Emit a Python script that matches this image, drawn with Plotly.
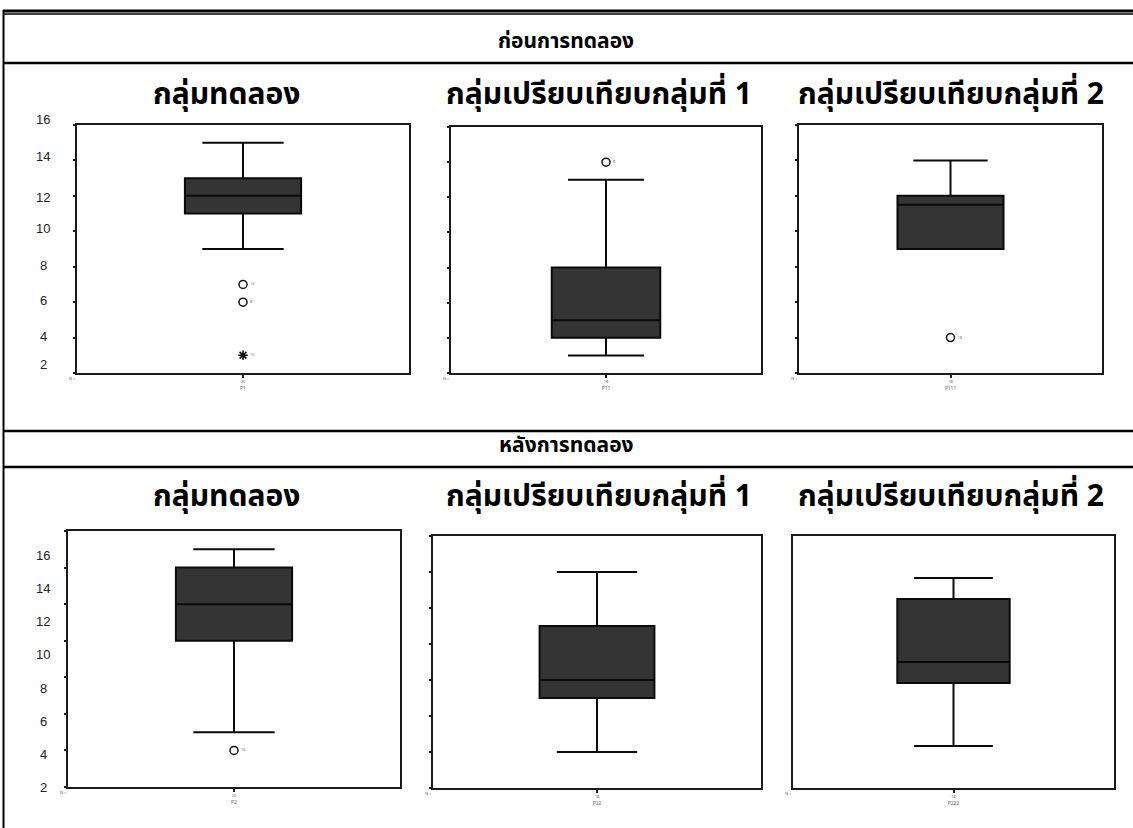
import plotly.graph_objects as go

W, H = 1133, 828

# ---------------- data ----------------
section_titles = ["ก่อนการทดลอง", "หลังการทดลอง"]
group_titles = ["กลุ่มทดลอง", "กลุ่มเปรียบเทียบกลุ่มที่ 1", "กลุ่มเปรียบเทียบกลุ่มที่ 2"]
var_names = ["P1", "P11", "P111", "P2", "P22", "P222"]
n_counts = ["20", "18", "18", "20", "18", "18"]

lower_fence = [9, 3, 9, 5, 4, 5]
q1_vals = [11, 4, 9, 10, 7, 8]
median_vals = [12, 5, 11.5, 12, 8, 9]
q3_vals = [13, 8, 12, 14, 11, 12]
upper_fence = [15, 13, 14, 15, 14, 13]

# outliers (circles) per panel and extremes (stars)
outliers = [[7, 6], [14], [4], [4], [], []]
outlier_ids = [["13", "8"], ["8"], ["18"], ["16"], [], []]
extremes = [[3], [], [], [], [], []]
extreme_ids = [["10"], [], [], [], [], []]

y_tick_vals = [2, 4, 6, 8, 10, 12, 14, 16]
y_tick_text = ["2", "4", "6", "8", "10", "12", "14", "16"]

# ---------------- layout helpers ----------------
# plot frames in pixels: (left, top, right, bottom)
frames = [
    (77, 125, 409, 373),
    (451, 127, 761, 373),
    (799, 125, 1102, 373),
    (68, 531, 400, 787),
    (433, 536, 761, 788),
    (793, 536, 1114, 788),
]
y_ranges = [[2, 16], [2, 16], [2, 16], [2, 16], [2, 16], [3, 15]]
show_yticks = [True, True, True, True, True, False]


def px(x):
    return x / W


def py(y):
    return 1 - y / H


FONT = "Noto Sans Thai, Noto Sans, DejaVu Sans, sans-serif"
BOX_FILL = "#343434"

fig = go.Figure()
layout = dict(
    width=W, height=H,
    margin=dict(l=0, r=0, t=0, b=0),
    paper_bgcolor="white", plot_bgcolor="white",
    showlegend=False,
    font=dict(family=FONT, color="black"),
)

for i in range(6):
    sfx = "" if i == 0 else str(i + 1)
    xa, ya = "x" + sfx, "y" + sfx
    l, t, r, b = frames[i]
    layout["xaxis" + sfx] = dict(
        domain=[px(l), px(r)], anchor=ya, range=[-0.5, 0.5],
        showline=True, linecolor="#1a1a1a", linewidth=1.6, mirror=True,
        showgrid=False, zeroline=False,
        ticks="outside", ticklen=3, tickwidth=1.5, tickcolor="#1a1a1a",
        tickvals=[0], ticktext=[n_counts[i]],
        tickfont=dict(size=4, color="#666"),
        title=dict(text=var_names[i], font=dict(size=5, color="#666"), standoff=2),
        fixedrange=True,
    )
    layout["yaxis" + sfx] = dict(
        domain=[py(b), py(t)], anchor=xa, range=y_ranges[i],
        showline=True, linecolor="#1a1a1a", linewidth=1.6, mirror=True,
        showgrid=False, zeroline=False,
        ticks="outside" if show_yticks[i] else "", ticklen=2, tickwidth=1.5,
        tickcolor="#1a1a1a",
        tickvals=y_tick_vals, showticklabels=False,
        fixedrange=True,
    )

    fig.add_trace(go.Box(
        x=[0], q1=[q1_vals[i]], median=[median_vals[i]], q3=[q3_vals[i]],
        lowerfence=[lower_fence[i]], upperfence=[upper_fence[i]],
        width=0.35, whiskerwidth=0.7,
        fillcolor=BOX_FILL, line=dict(color="#0a0a0a", width=2),
        boxpoints=False, xaxis=xa, yaxis=ya, hoverinfo="skip",
    ))
    if outliers[i]:
        fig.add_trace(go.Scatter(
            x=[0] * len(outliers[i]), y=outliers[i], mode="markers+text",
            marker=dict(symbol="circle-open", size=8, color="#111111",
                        line=dict(width=1.5, color="#111111")),
            text=[" " + s for s in outlier_ids[i]], textposition="middle right",
            textfont=dict(size=4, color="#777"),
            xaxis=xa, yaxis=ya, hoverinfo="skip",
        ))
    if extremes[i]:
        fig.add_trace(go.Scatter(
            x=[0] * len(extremes[i]), y=extremes[i], mode="markers+text",
            marker=dict(symbol="asterisk-open", size=8, color="#111111",
                        line=dict(width=1.6, color="#111111")),
            text=[" " + s for s in extreme_ids[i]], textposition="middle right",
            textfont=dict(size=4, color="#777"),
            xaxis=xa, yaxis=ya, hoverinfo="skip",
        ))

annotations = []
# section titles
for txt, yy in zip(section_titles, [41, 445]):
    annotations.append(dict(x=px(566), y=py(yy), xref="paper", yref="paper",
                            text="<b>" + txt + "</b>", showarrow=False,
                            font=dict(size=21, family=FONT, color="black"),
                            xanchor="center", yanchor="middle"))
# group titles
for yy in [95, 497]:
    for txt, xx in zip(group_titles, [226, 599, 951]):
        annotations.append(dict(x=px(xx), y=py(yy), xref="paper", yref="paper",
                                text="<b>" + txt + "</b>", showarrow=False,
                                font=dict(size=30, family=FONT, color="black"),
                                xanchor="center", yanchor="middle"))
# y labels in first column of table
label_pos_top = [365, 336, 300, 265, 228, 198, 157, 120]
label_pos_bot = [787, 754, 721, 688, 654, 621, 588, 555]
for positions in (label_pos_top, label_pos_bot):
    for txt, yy in zip(y_tick_text, positions):
        annotations.append(dict(x=px(43), y=py(yy), xref="paper", yref="paper",
                                text=txt, showarrow=False,
                                font=dict(size=13, family="Liberation Sans, Arial", color="#222"),
                                xanchor="center", yanchor="middle"))
# "N =" labels
for i in range(6):
    l, t, r, b = frames[i]
    annotations.append(dict(x=px(l - 10), y=py(b + 6), xref="paper", yref="paper",
                            text="N =", showarrow=False,
                            font=dict(size=4, color="#666"),
                            xanchor="left", yanchor="middle"))

layout["annotations"] = annotations

# table lines
shapes = []
def hline(yy, w):
    shapes.append(dict(type="line", xref="paper", yref="paper",
                       x0=px(3), x1=1, y0=py(yy), y1=py(yy),
                       line=dict(color="black", width=w)))
hline(11, 3)
hline(14, 1.3)
hline(63, 2.5)
hline(431, 2.5)
hline(467, 2.5)
shapes.append(dict(type="line", xref="paper", yref="paper",
                   x0=px(3.5), x1=px(3.5), y0=py(10), y1=0,
                   line=dict(color="black", width=2)))
layout["shapes"] = shapes

fig.update_layout(**layout)

fig.write_html("out.html", config={"displayModeBar": False},
               post_script="document.body.style.margin='0';document.body.style.overflow='hidden';")
